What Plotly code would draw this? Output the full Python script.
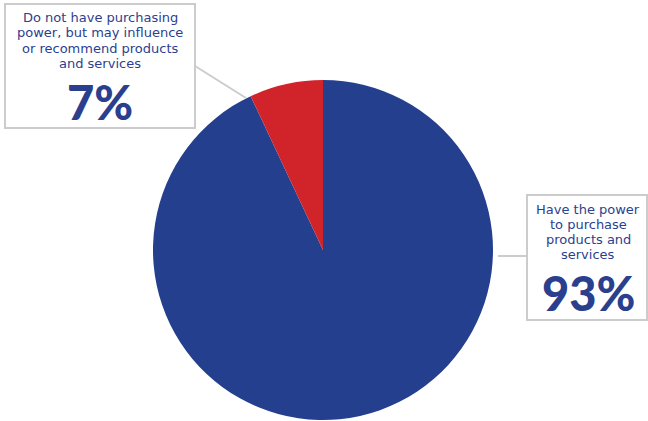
import plotly.graph_objects as go

labels = ["Have the power to purchase products and services",
          "Do not have purchasing power, but may influence or recommend products and services"]
values = [93, 7]
colors = ["#253f8f", "#d0232a"]
left_lines = ["Do not have purchasing", "power, but may influence", "or recommend products", "and services"]
right_lines = ["Have the power", "to purchase", "products and", "services"]
pct_text = ["93%", "7%"]

W, H = 648, 421
def px(x): return x / W
def py(y): return 1 - y / H

fig = go.Figure(go.Pie(
    labels=labels, values=values, sort=False, direction="clockwise", rotation=0,
    marker=dict(colors=colors, line=dict(width=0)),
    textinfo="none", hoverinfo="label+percent", showlegend=False,
    domain=dict(x=[px(153), px(493)], y=[py(420), py(80)]),
))

txt_color = "#2b3f8f"
border = "#cccccc"
shapes = [
    dict(type="rect", xref="paper", yref="paper", x0=px(5), x1=px(195), y0=py(128), y1=py(4),
         line=dict(color=border, width=2), fillcolor="white"),
    dict(type="rect", xref="paper", yref="paper", x0=px(527), x1=px(647), y0=py(320), y1=py(195),
         line=dict(color=border, width=2), fillcolor="white"),
    dict(type="line", xref="paper", yref="paper", x0=px(195), y0=py(66), x1=px(246), y1=py(98),
         line=dict(color=border, width=2)),
    dict(type="line", xref="paper", yref="paper", x0=px(498), y0=py(256), x1=px(527), y1=py(256),
         line=dict(color=border, width=2)),
]

small_font = dict(family="DejaVu Sans", size=13, color=txt_color)
big_font = dict(family="Lato Black, Lato", size=47, color=txt_color)
annotations = []
for i, line in enumerate(left_lines):
    annotations.append(dict(text=line, x=px(100), y=py(17 + 15.6 * i), xref="paper", yref="paper",
                            showarrow=False, xanchor="center", yanchor="middle", font=small_font))
for i, line in enumerate(right_lines):
    annotations.append(dict(text=line, x=px(588), y=py(209 + 15.3 * i), xref="paper", yref="paper",
                            showarrow=False, xanchor="center", yanchor="middle", font=small_font))
annotations.append(dict(text="<b>" + pct_text[1] + "</b>", x=px(100), y=py(102), xref="paper", yref="paper",
                        showarrow=False, xanchor="center", yanchor="middle", font=big_font))
annotations.append(dict(text="<b>" + pct_text[0] + "</b>", x=px(588), y=py(293), xref="paper", yref="paper",
                        showarrow=False, xanchor="center", yanchor="middle", font=big_font))

fig.update_layout(width=W, height=H, margin=dict(l=0, r=0, t=0, b=0),
                  paper_bgcolor="white", plot_bgcolor="white",
                  shapes=shapes, annotations=annotations)
fig.write_html("out.html")
